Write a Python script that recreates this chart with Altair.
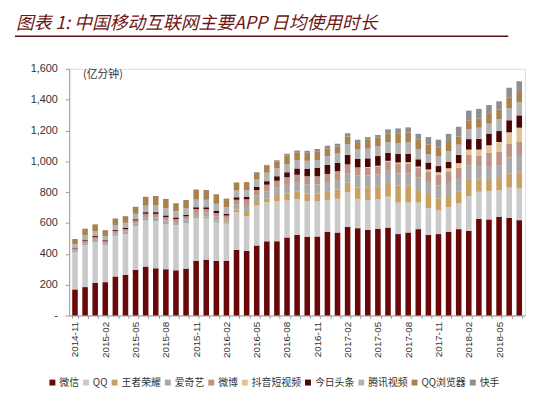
import altair as alt
import pandas as pd

months = [
    "2014-11", "2014-12",
    "2015-01", "2015-02", "2015-03", "2015-04", "2015-05", "2015-06",
    "2015-07", "2015-08", "2015-09", "2015-10", "2015-11", "2015-12",
    "2016-01", "2016-02", "2016-03", "2016-04", "2016-05", "2016-06",
    "2016-07", "2016-08", "2016-09", "2016-10", "2016-11", "2016-12",
    "2017-01", "2017-02", "2017-03", "2017-04", "2017-05", "2017-06",
    "2017-07", "2017-08", "2017-09", "2017-10", "2017-11", "2017-12",
    "2018-01", "2018-02", "2018-03", "2018-04", "2018-05", "2018-06", "2018-07",
]

apps = ["微信", "QQ", "王者荣耀", "爱奇艺", "微博", "抖音短视频", "今日头条", "腾讯视频", "QQ浏览器", "快手"]
colors = ["#680808", "#CACACA", "#C9A063", "#A9A9A9", "#BC9385", "#E2C291", "#4A0505", "#B3B3B3", "#A9824F", "#8E8E8E"]

wechat = [169, 184, 212, 216, 253, 264, 296, 317, 306, 300, 293, 304,
          355, 362, 355, 355,
          426, 418, 454, 481, 481, 506, 523, 511, 513, 543, 538, 574,
          566, 555, 563, 570, 528, 538, 560, 522, 528, 543, 560, 549,
          627, 623, 639, 633, 618]
qq = [242, 270, 263, 238, 264, 264, 284, 299, 306, 291, 292, 296,
      276, 270, 251, 240,
      244, 226, 259, 253, 262, 239, 233, 228, 226, 206, 218, 224,
      190, 194, 190, 200, 204, 194, 172, 174, 154, 160, 168, 226,
      175, 185, 174, 196, 205]
wangzhe = [0, 0, 0, 0, 0, 0, 0, 0, 0, 0, 0, 0,
           8, 9, 10, 10,
           18, 27, 30, 26, 38, 46, 50, 52, 52, 57, 60, 63,
           73, 80, 81, 89, 112, 112, 81, 91, 78, 78, 78, 111,
           78, 78, 78, 93, 106]
iqiyi = [12, 15, 16, 14, 16, 16, 18, 22, 24, 24, 21, 22,
         26, 25, 25, 22,
         33, 40, 36, 46, 48, 55, 55, 58, 58, 58, 62, 58,
         79, 79, 80, 84, 78, 78, 84, 78, 84, 78, 80, 89,
         85, 79, 80, 102, 112]
weibo = [12, 16, 17, 14, 16, 17, 18, 22, 23, 23, 20, 21,
         25, 24, 24, 21,
         30, 42, 34, 42, 45, 51, 51, 54, 54, 54, 58, 61,
         50, 52, 53, 55, 64, 64, 59, 70, 70, 76, 74, 66,
         69, 90, 91, 88, 88]
douyin = [0, 0, 0, 0, 0, 0, 0, 0, 0, 0, 0, 0,
          0, 0, 0, 0,
          0, 0, 0, 0, 0, 0, 0, 0, 0, 0, 0, 0,
          2, 3, 4, 5, 6, 8, 10, 12, 15, 20, 28, 35,
          42, 49, 63, 76, 89]
toutiao = [5, 7, 7, 6, 7, 8, 8, 10, 11, 11, 10, 10,
           12, 12, 12, 11,
           15, 17, 21, 23, 29, 32, 42, 47, 55, 59, 55, 62,
           55, 56, 63, 52, 57, 55, 47, 45, 40, 41, 53, 68,
           70, 76, 71, 78, 80]
txvideo = [22, 30, 32, 27, 31, 32, 35, 42, 45, 46, 40, 42,
           50, 48, 47, 42,
           44, 43, 48, 55, 51, 52, 55, 53, 51, 57, 59, 70,
           61, 63, 64, 70, 70, 76, 63, 55, 65, 70, 67, 63,
           72, 64, 76, 78, 84]
qqbrowser = [34, 41, 44, 38, 42, 43, 46, 58, 60, 61, 52, 54,
             65, 64, 62, 57,
             53, 52, 42, 45, 46, 58, 49, 52, 56, 50, 45, 48,
             43, 57, 57, 57, 63, 61, 63, 63, 57, 59, 53, 59,
             59, 64, 64, 70, 68]
kuaishou = [0, 0, 0, 0, 0, 0, 0, 0, 0, 0, 0, 0,
            0, 0, 0, 0,
            0, 0, 5, 6, 7, 10, 12, 13, 15, 17, 19, 22,
            21, 18, 16, 25, 31, 34, 39, 47, 49, 53, 63, 63,
            63, 57, 53, 63, 69]

tick_labels = ["2014-11", "2015-02", "2015-05", "2015-08", "2015-11", "2016-02",
               "2016-05", "2016-08", "2016-11", "2017-02", "2017-05", "2017-08",
               "2017-11", "2018-02", "2018-05"]

series = [wechat, qq, wangzhe, iqiyi, weibo, douyin, toutiao, txvideo, qqbrowser, kuaishou]
rows = []
for i, (name, vals) in enumerate(zip(apps, series)):
    for m, v in zip(months, vals):
        rows.append({"month": m, "app": name, "value": v, "ord": i})
df = pd.DataFrame(rows)

FONT = "Liberation Sans, Noto Sans CJK SC, sans-serif"
CJK = "Noto Sans CJK SC, sans-serif"
label_arr = "[" + ",".join("'" + t + "'" for t in tick_labels) + "]"

bars = alt.Chart(df).mark_bar().encode(
    x=alt.X("month:N", sort=months,
            scale=alt.Scale(paddingInner=0.45, paddingOuter=0.3),
            axis=alt.Axis(title=None, labelAngle=270, labelFontSize=10, labelFont=FONT,
                          labelColor="#333333", labelOverlap=False, labelPadding=3,
                          labelExpr="indexof(" + label_arr + ", datum.value) >= 0 ? datum.value : ''",
                          domainColor="#999999", tickColor="#999999", tickSize=3,
                          tickBand="extent")),
    y=alt.Y("value:Q", stack="zero", scale=alt.Scale(domain=[0, 1600], nice=False),
            axis=alt.Axis(title=None, values=[0, 200, 400, 600, 800, 1000, 1200, 1400, 1600],
                          labelExpr="datum.value == 0 ? '-' : format(datum.value, ',')",
                          labelFontSize=11, labelFont=FONT, labelColor="#333333",
                          labelPadding=8, grid=False, domainColor="#999999",
                          tickColor="#999999", tickSize=4)),
    color=alt.Color("app:N", scale=alt.Scale(domain=apps, range=colors),
                    legend=alt.Legend(title=None, orient="none", legendX=-22, legendY=313,
                                      direction="horizontal", columns=10, symbolType="square",
                                      symbolSize=36, symbolStrokeWidth=0, labelFontSize=10,
                                      labelFont=CJK, labelColor="#333333", labelOffset=2,
                                      columnPadding=2)),
    order=alt.Order("ord:Q", sort="ascending"),
)

unit = alt.Chart(pd.DataFrame({"t": ["(亿分钟)"]})).mark_text(
    align="left", baseline="middle", fontSize=11, font=CJK, color="#333333"
).encode(text="t:N", x=alt.value(14), y=alt.value(6))

title = alt.Chart(pd.DataFrame({"t": ["图表 1:  中国移动互联网主要APP 日均使用时长"]})).mark_text(
    align="left", baseline="middle", fontSize=18, font=CJK, fontStyle="italic",
    color="#6E1616"
).encode(text="t:N", x=alt.value(-54), y=alt.value(-45))

underline = alt.Chart(pd.DataFrame({"a": [0]})).mark_rule(color="#5A1010", strokeWidth=1.5).encode(
    x=alt.value(-55), x2=alt.value(445), y=alt.value(-33)
)

chart = alt.layer(bars, unit, title, underline).properties(
    width=462, height=250,
    padding={"left": 6, "top": 5, "right": 5, "bottom": 5},
).configure_view(stroke=None).configure(background="white")

chart.save("out.html", embed_options={"renderer": "svg", "actions": False})
